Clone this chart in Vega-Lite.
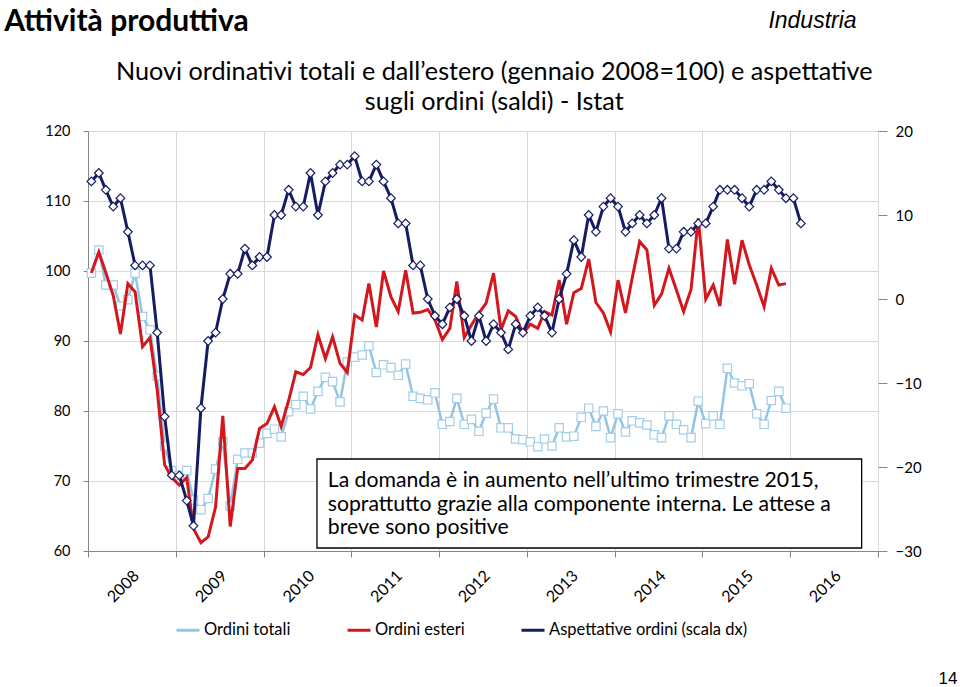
{
  "$schema": "https://vega.github.io/schema/vega-lite/v6.json",
  "width": 790,
  "height": 420,
  "autosize": {"type": "none"},
  "padding": {"left": 88, "top": 131, "right": 82, "bottom": 136},
  "background": "white",
  "datasets": {
    "serie": [
      {"d": "2008-01-15", "tot": 99.7, "est": 99.7, "asp": 14},
      {"d": "2008-02-15", "tot": 103, "est": 102.7, "asp": 15},
      {"d": "2008-03-15", "tot": 98, "est": 99.8, "asp": 13},
      {"d": "2008-04-15", "tot": 98, "est": 96.5, "asp": 11},
      {"d": "2008-05-15", "tot": 95, "est": 91, "asp": 12},
      {"d": "2008-06-15", "tot": 95.9, "est": 98.2, "asp": 8},
      {"d": "2008-07-15", "tot": 99.7, "est": 97, "asp": 4},
      {"d": "2008-08-15", "tot": 93.5, "est": 89.2, "asp": 4},
      {"d": "2008-09-15", "tot": 91.6, "est": 90.5, "asp": 4},
      {"d": "2008-10-15", "tot": 85, "est": 83, "asp": -4},
      {"d": "2008-11-15", "tot": 75, "est": 72.3, "asp": -14},
      {"d": "2008-12-15", "tot": 71.5, "est": 70.5, "asp": -21},
      {"d": "2009-01-15", "tot": 70.8, "est": 69.4, "asp": -21},
      {"d": "2009-02-15", "tot": 71.5, "est": 70.5, "asp": -24},
      {"d": "2009-03-15", "tot": 67.3, "est": 63.2, "asp": -27},
      {"d": "2009-04-15", "tot": 65.9, "est": 61.2, "asp": -13},
      {"d": "2009-05-15", "tot": 67.5, "est": 62, "asp": -5},
      {"d": "2009-06-15", "tot": 71.7, "est": 66.3, "asp": -4},
      {"d": "2009-07-15", "tot": 75.6, "est": 79.3, "asp": 0},
      {"d": "2009-08-15", "tot": 66.4, "est": 63.5, "asp": 3},
      {"d": "2009-09-15", "tot": 73.1, "est": 71.8, "asp": 3},
      {"d": "2009-10-15", "tot": 74, "est": 71.8, "asp": 6},
      {"d": "2009-11-15", "tot": 74, "est": 73, "asp": 4},
      {"d": "2009-12-15", "tot": 75.4, "est": 77.5, "asp": 5},
      {"d": "2010-01-15", "tot": 76.8, "est": 78.2, "asp": 5},
      {"d": "2010-02-15", "tot": 77.4, "est": 80.6, "asp": 10},
      {"d": "2010-03-15", "tot": 76.3, "est": 77.8, "asp": 10},
      {"d": "2010-04-15", "tot": 79.9, "est": 81.5, "asp": 13},
      {"d": "2010-05-15", "tot": 80.9, "est": 85.6, "asp": 11},
      {"d": "2010-06-15", "tot": 82.1, "est": 85.2, "asp": 11},
      {"d": "2010-07-15", "tot": 80.3, "est": 86.2, "asp": 15},
      {"d": "2010-08-15", "tot": 82.8, "est": 90.9, "asp": 10},
      {"d": "2010-09-15", "tot": 84.8, "est": 87.5, "asp": 14},
      {"d": "2010-10-15", "tot": 84.2, "est": 90.6, "asp": 15},
      {"d": "2010-11-15", "tot": 81.3, "est": 86.8, "asp": 16},
      {"d": "2010-12-15", "tot": 87, "est": 85.5, "asp": 16},
      {"d": "2011-01-15", "tot": 87.7, "est": 93.7, "asp": 17},
      {"d": "2011-02-15", "tot": 88, "est": 93, "asp": 14},
      {"d": "2011-03-15", "tot": 89.3, "est": 98.2, "asp": 14},
      {"d": "2011-04-15", "tot": 85.5, "est": 92, "asp": 16},
      {"d": "2011-05-15", "tot": 86.6, "est": 100, "asp": 14},
      {"d": "2011-06-15", "tot": 86.2, "est": 96.3, "asp": 12},
      {"d": "2011-07-15", "tot": 85.1, "est": 94.2, "asp": 9},
      {"d": "2011-08-15", "tot": 86.7, "est": 100.1, "asp": 9},
      {"d": "2011-09-15", "tot": 82.1, "est": 94, "asp": 4},
      {"d": "2011-10-15", "tot": 81.8, "est": 94.1, "asp": 4},
      {"d": "2011-11-15", "tot": 81.6, "est": 94.5, "asp": 0},
      {"d": "2011-12-15", "tot": 82.6, "est": 93, "asp": -2},
      {"d": "2012-01-15", "tot": 78.1, "est": 90.2, "asp": -3},
      {"d": "2012-02-15", "tot": 78.5, "est": 91.8, "asp": -1},
      {"d": "2012-03-15", "tot": 81.8, "est": 98.5, "asp": 0},
      {"d": "2012-04-15", "tot": 78.1, "est": 90.5, "asp": -2},
      {"d": "2012-05-15", "tot": 78.8, "est": 92.3, "asp": -5},
      {"d": "2012-06-15", "tot": 77.1, "est": 94, "asp": -2},
      {"d": "2012-07-15", "tot": 79.7, "est": 95.4, "asp": -5},
      {"d": "2012-08-15", "tot": 81.7, "est": 99.7, "asp": -3},
      {"d": "2012-09-15", "tot": 77.6, "est": 91.6, "asp": -4},
      {"d": "2012-10-15", "tot": 77.6, "est": 94.3, "asp": -6},
      {"d": "2012-11-15", "tot": 76, "est": 93.5, "asp": -3},
      {"d": "2012-12-15", "tot": 75.9, "est": 91.1, "asp": -4},
      {"d": "2013-01-15", "tot": 75.6, "est": 92.4, "asp": -2},
      {"d": "2013-02-15", "tot": 74.9, "est": 91.8, "asp": -1},
      {"d": "2013-03-15", "tot": 76, "est": 94.2, "asp": -2},
      {"d": "2013-04-15", "tot": 75, "est": 93.7, "asp": -4},
      {"d": "2013-05-15", "tot": 77.6, "est": 98.7, "asp": 0},
      {"d": "2013-06-15", "tot": 76.3, "est": 92.4, "asp": 3},
      {"d": "2013-07-15", "tot": 76.4, "est": 96.9, "asp": 7},
      {"d": "2013-08-15", "tot": 79.1, "est": 97.5, "asp": 5},
      {"d": "2013-09-15", "tot": 80.4, "est": 101.7, "asp": 10},
      {"d": "2013-10-15", "tot": 77.8, "est": 95.5, "asp": 8},
      {"d": "2013-11-15", "tot": 80, "est": 94, "asp": 11},
      {"d": "2013-12-15", "tot": 76.2, "est": 91.3, "asp": 12},
      {"d": "2014-01-15", "tot": 79.6, "est": 98.7, "asp": 11},
      {"d": "2014-02-15", "tot": 77, "est": 94, "asp": 8},
      {"d": "2014-03-15", "tot": 78.6, "est": 99, "asp": 9},
      {"d": "2014-04-15", "tot": 78.3, "est": 104.2, "asp": 10},
      {"d": "2014-05-15", "tot": 78, "est": 103, "asp": 9},
      {"d": "2014-06-15", "tot": 76.6, "est": 95.1, "asp": 10},
      {"d": "2014-07-15", "tot": 76.2, "est": 96.7, "asp": 12},
      {"d": "2014-08-15", "tot": 79.3, "est": 100.4, "asp": 6},
      {"d": "2014-09-15", "tot": 78.1, "est": 97.3, "asp": 6},
      {"d": "2014-10-15", "tot": 77.3, "est": 94.2, "asp": 8},
      {"d": "2014-11-15", "tot": 76.2, "est": 97.4, "asp": 8},
      {"d": "2014-12-15", "tot": 81.4, "est": 107.5, "asp": 9},
      {"d": "2015-01-15", "tot": 78.2, "est": 96, "asp": 9},
      {"d": "2015-02-15", "tot": 79.3, "est": 98, "asp": 11},
      {"d": "2015-03-15", "tot": 78.1, "est": 95, "asp": 13},
      {"d": "2015-04-15", "tot": 86.1, "est": 104.5, "asp": 13},
      {"d": "2015-05-15", "tot": 84, "est": 98.1, "asp": 13},
      {"d": "2015-06-15", "tot": 83.6, "est": 104.4, "asp": 12},
      {"d": "2015-07-15", "tot": 83.9, "est": 100.9, "asp": 11},
      {"d": "2015-08-15", "tot": 79.6, "est": 98, "asp": 13},
      {"d": "2015-09-15", "tot": 78.1, "est": 94.9, "asp": 13},
      {"d": "2015-10-15", "tot": 81.5, "est": 100.4, "asp": 14},
      {"d": "2015-11-15", "tot": 82.8, "est": 98, "asp": 13},
      {"d": "2015-12-15", "tot": 80.4, "est": 98.2, "asp": 12},
      {"d": "2016-01-15", "tot": null, "est": null, "asp": 12},
      {"d": "2016-02-15", "tot": null, "est": null, "asp": 9}
    ]
  },
  "config": {
    "view": {"stroke": null},
    "font": "Lato",
    "axis": {
      "labelFont": "Lato",
      "labelColor": "#000000",
      "labelFontSize": 15,
      "gridColor": "#d9d9d9",
      "gridWidth": 1,
      "domainColor": "#868686",
      "tickColor": "#868686"
    },
    "legend": {
      "orient": "none",
      "legendX": 87,
      "legendY": 486,
      "direction": "horizontal",
      "symbolType": "stroke",
      "symbolSize": 529,
      "symbolStrokeWidth": 3,
      "labelFont": "Lato",
      "labelFontSize": 16.5,
      "labelColor": "#000000",
      "labelOffset": 3,
      "columnPadding": 50,
      "labelLimit": 400
    }
  },
  "layer": [
    {
      "layer": [
        {
          "data": {"name": "serie"},
          "mark": {"type": "line", "strokeWidth": 2.5},
          "encoding": {
            "x": {
              "field": "d", "type": "temporal", "title": null,
              "scale": {"type": "utc", "domain": [{"year": 2008, "month": 1, "date": 1, "utc": true}, {"year": 2017, "month": 1, "date": 1, "utc": true}]},
              "axis": {
                "values": [
                  {"year": 2008, "month": 1, "date": 1, "utc": true},
                  {"year": 2009, "month": 1, "date": 1, "utc": true},
                  {"year": 2010, "month": 1, "date": 1, "utc": true},
                  {"year": 2011, "month": 1, "date": 1, "utc": true},
                  {"year": 2012, "month": 1, "date": 1, "utc": true},
                  {"year": 2013, "month": 1, "date": 1, "utc": true},
                  {"year": 2014, "month": 1, "date": 1, "utc": true},
                  {"year": 2015, "month": 1, "date": 1, "utc": true},
                  {"year": 2016, "month": 1, "date": 1, "utc": true},
                  {"year": 2017, "month": 1, "date": 1, "utc": true}
                ],
                "grid": true,
                "tickSize": 6,
                "labelAngle": -45,
                "labelAlign": "right",
                "labelBaseline": "middle",
                "labelOffset": 48,
                "labelPadding": 16,
                "labelFontSize": 16,
                "labelFlush": false,
                "labelOverlap": false,
                "labelExpr": "utcyear(datum.value) >= 2017 ? '' : utcFormat(datum.value, '%Y')"
              }
            },
            "y": {
              "field": "tot", "type": "quantitative", "title": null,
              "scale": {"domain": [60, 120], "nice": false, "zero": false},
              "axis": {
                "orient": "left",
                "values": [60, 70, 80, 90, 100, 110, 120],
                "grid": true,
                "tickSize": 5,
                "labelPadding": 13,
                "labelFontSize": 14.5
              }
            },
            "color": {
              "datum": "Ordini totali", "type": "nominal",
              "scale": {"domain": ["Ordini totali", "Ordini esteri", "Aspettative ordini (scala dx)"], "range": ["#93c4e4", "#d3171c", "#151c63"]},
              "legend": {"title": null}
            }
          }
        },
        {
          "data": {"name": "serie"},
          "mark": {"type": "point", "shape": "square", "size": 70, "filled": false, "fill": "white", "stroke": "#a3cde8", "strokeWidth": 1.2, "opacity": 1},
          "encoding": {
            "x": {"field": "d", "type": "temporal", "title": null, "scale": {"type": "utc", "domain": [{"year": 2008, "month": 1, "date": 1, "utc": true}, {"year": 2017, "month": 1, "date": 1, "utc": true}]}},
            "y": {"field": "tot", "type": "quantitative", "title": null, "scale": {"domain": [60, 120], "nice": false, "zero": false}}
          }
        },
        {
          "data": {"name": "serie"},
          "mark": {"type": "line", "strokeWidth": 3},
          "encoding": {
            "x": {"field": "d", "type": "temporal", "title": null, "scale": {"type": "utc", "domain": [{"year": 2008, "month": 1, "date": 1, "utc": true}, {"year": 2017, "month": 1, "date": 1, "utc": true}]}},
            "y": {"field": "est", "type": "quantitative", "title": null, "scale": {"domain": [60, 120], "nice": false, "zero": false}},
            "color": {
              "datum": "Ordini esteri", "type": "nominal",
              "scale": {"domain": ["Ordini totali", "Ordini esteri", "Aspettative ordini (scala dx)"], "range": ["#93c4e4", "#d3171c", "#151c63"]}
            }
          }
        },
        {
          "data": {"values": [{}]},
          "mark": {"type": "rect", "fill": "white", "stroke": "#000000", "strokeWidth": 1.3},
          "encoding": {
            "x": {"datum": {"year": 2010, "month": 8, "date": 11, "utc": true}, "type": "temporal", "title": null, "scale": {"type": "utc", "domain": [{"year": 2008, "month": 1, "date": 1, "utc": true}, {"year": 2017, "month": 1, "date": 1, "utc": true}]}},
            "x2": {"datum": {"year": 2016, "month": 10, "date": 25, "utc": true}},
            "y": {"datum": 73.14, "type": "quantitative", "title": null, "scale": {"domain": [60, 120], "nice": false, "zero": false}},
            "y2": {"datum": 60.43}
          }
        },
        {
          "data": {"values": [{}]},
          "mark": {"type": "text", "text": ["La domanda è in aumento nell’ultimo trimestre 2015,", "soprattutto grazie alla componente interna. Le attese a", "breve sono positive"], "font": "Lato", "fontSize": 21.2, "lineHeight": 23.5, "align": "left", "baseline": "alphabetic", "color": "#000000"},
          "encoding": {
            "x": {"datum": {"year": 2010, "month": 9, "date": 25, "utc": true}, "type": "temporal", "title": null, "scale": {"type": "utc", "domain": [{"year": 2008, "month": 1, "date": 1, "utc": true}, {"year": 2017, "month": 1, "date": 1, "utc": true}]}},
            "y": {"datum": 69.14, "type": "quantitative", "title": null, "scale": {"domain": [60, 120], "nice": false, "zero": false}}
          }
        },
        {
          "data": {"values": [{}]},
          "mark": {"type": "text", "text": ["Nuovi ordinativi totali e dall’estero (gennaio 2008=100) e aspettative", "sugli ordini (saldi) - Istat"], "font": "Lato", "fontSize": 25.2, "lineHeight": 30, "align": "center", "baseline": "alphabetic", "color": "#000000"},
          "encoding": {
            "x": {"datum": {"year": 2012, "month": 8, "date": 18, "utc": true}, "type": "temporal", "title": null, "scale": {"type": "utc", "domain": [{"year": 2008, "month": 1, "date": 1, "utc": true}, {"year": 2017, "month": 1, "date": 1, "utc": true}]}},
            "y": {"datum": 127.29, "type": "quantitative", "title": null, "scale": {"domain": [60, 120], "nice": false, "zero": false}}
          }
        },
        {
          "data": {"values": [{}]},
          "mark": {"type": "text", "text": "Attività produttiva", "font": "Lato", "fontWeight": "bold", "fontSize": 30, "align": "left", "baseline": "alphabetic", "color": "#000000"},
          "encoding": {
            "x": {"datum": {"year": 2007, "month": 1, "date": 17, "utc": true}, "type": "temporal", "title": null, "scale": {"type": "utc", "domain": [{"year": 2008, "month": 1, "date": 1, "utc": true}, {"year": 2017, "month": 1, "date": 1, "utc": true}]}},
            "y": {"datum": 134.29, "type": "quantitative", "title": null, "scale": {"domain": [60, 120], "nice": false, "zero": false}}
          }
        },
        {
          "data": {"values": [{}]},
          "mark": {"type": "text", "text": "Industria", "font": "Liberation Sans", "fontStyle": "italic", "fontSize": 23, "align": "right", "baseline": "alphabetic", "color": "#000000"},
          "encoding": {
            "x": {"datum": {"year": 2016, "month": 10, "date": 4, "utc": true}, "type": "temporal", "title": null, "scale": {"type": "utc", "domain": [{"year": 2008, "month": 1, "date": 1, "utc": true}, {"year": 2017, "month": 1, "date": 1, "utc": true}]}},
            "y": {"datum": 134.71, "type": "quantitative", "title": null, "scale": {"domain": [60, 120], "nice": false, "zero": false}}
          }
        },
        {
          "data": {"values": [{}]},
          "mark": {"type": "text", "text": "14", "font": "Liberation Sans", "fontSize": 17, "align": "right", "baseline": "alphabetic", "color": "#000000"},
          "encoding": {
            "x": {"datum": {"year": 2017, "month": 11, "date": 28, "utc": true}, "type": "temporal", "title": null, "scale": {"type": "utc", "domain": [{"year": 2008, "month": 1, "date": 1, "utc": true}, {"year": 2017, "month": 1, "date": 1, "utc": true}]}},
            "y": {"datum": 41, "type": "quantitative", "title": null, "scale": {"domain": [60, 120], "nice": false, "zero": false}}
          }
        }
      ]
    },
    {
      "layer": [
        {
          "data": {"name": "serie"},
          "mark": {"type": "line", "strokeWidth": 3},
          "encoding": {
            "x": {"field": "d", "type": "temporal", "title": null, "scale": {"type": "utc", "domain": [{"year": 2008, "month": 1, "date": 1, "utc": true}, {"year": 2017, "month": 1, "date": 1, "utc": true}]}},
            "y": {
              "field": "asp", "type": "quantitative", "title": null,
              "scale": {"domain": [-30, 20], "nice": false, "zero": false},
              "axis": {
                "orient": "right",
                "values": [-30, -20, -10, 0, 10, 20],
                "grid": false,
                "domain": false,
                "tickSize": 9,
                "labelPadding": 8,
                "labelFontSize": 15
              }
            },
            "color": {
              "datum": "Aspettative ordini (scala dx)", "type": "nominal",
              "scale": {"domain": ["Ordini totali", "Ordini esteri", "Aspettative ordini (scala dx)"], "range": ["#93c4e4", "#d3171c", "#151c63"]}
            }
          }
        },
        {
          "data": {"name": "serie"},
          "mark": {"type": "point", "shape": "diamond", "size": 75, "filled": false, "fill": "white", "stroke": "#151c63", "strokeWidth": 1.2, "opacity": 1},
          "encoding": {
            "x": {"field": "d", "type": "temporal", "title": null, "scale": {"type": "utc", "domain": [{"year": 2008, "month": 1, "date": 1, "utc": true}, {"year": 2017, "month": 1, "date": 1, "utc": true}]}},
            "y": {"field": "asp", "type": "quantitative", "title": null, "scale": {"domain": [-30, 20], "nice": false, "zero": false}}
          }
        }
      ]
    }
  ],
  "resolve": {"scale": {"y": "independent"}}
}
